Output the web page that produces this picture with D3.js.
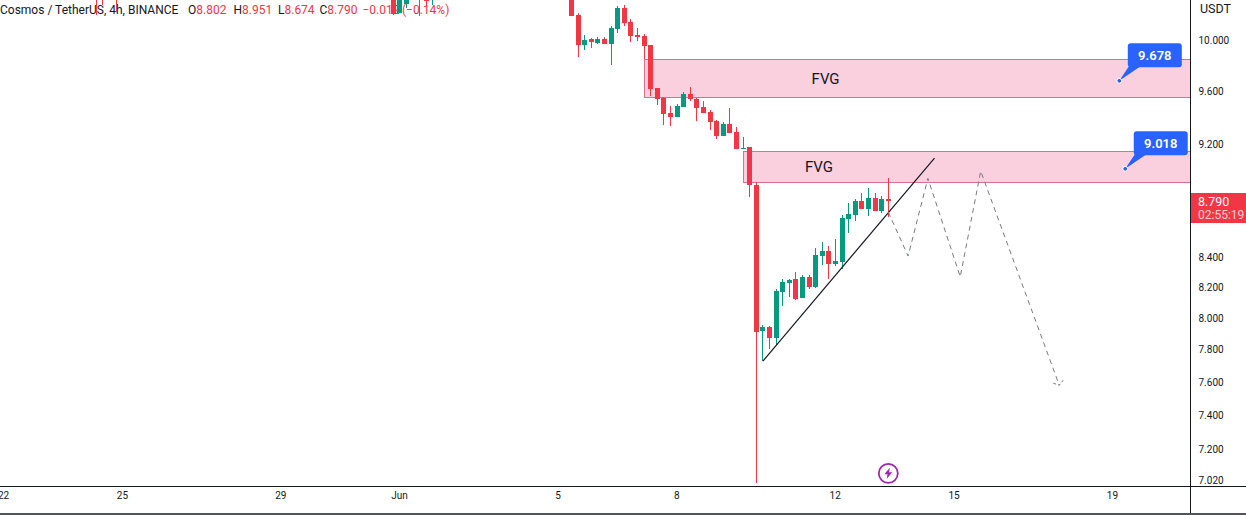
<!DOCTYPE html>
<html>
<head>
<meta charset="utf-8">
<script src="https://cdn.jsdelivr.net/npm/d3@7"></script>
<style>
  html, body { margin: 0; padding: 0; background: #fff; overflow: hidden; }
  svg { display: block; }
  text { font-family: Roboto, sans-serif; fill: #131722; }
</style>
</head>
<body>
<div id="chart"></div>
<script>
// 4h bars, counted from Jun 5 00:00. The bars above the top edge only show their lower wicks.
const barIndex = [-70, -69, -67, -25, -24, -23, -21, -20, -19,
    2, 3, 4, 5, 6, 7, 8, 9, 10, 11, 12, 13, 14, 15, 16, 17, 18, 19, 20, 21, 22, 23, 24, 25,
    26, 27, 28, 29, 30, 31, 32, 33, 34, 35, 36, 37, 38, 39, 40, 41, 42, 43, 44, 45, 46, 47, 48, 49, 50];
const opens = [10.60, 10.60, 10.60, 10.50, 10.219, 10.295, 10.50, 10.50, 10.340,
    10.450, 10.203, 9.960, 10.008, 9.976, 10.008, 9.968, 10.089, 10.260, 10.146, 10.040, 10.032, 9.960,
    9.622, 9.545, 9.431, 9.401, 9.476, 9.576, 9.537, 9.476, 9.438, 9.371, 9.258,
    9.348, 9.288, 9.162, 9.177, 8.901, 7.916, 7.942, 7.872, 8.168, 8.227, 8.254, 8.129, 8.267, 8.201, 8.408,
    8.441, 8.354, 8.367, 8.661, 8.689, 8.787, 8.731, 8.808, 8.717, 8.802];
const highs = [10.70, 10.70, 10.70, 10.60, 10.60, 10.60, 10.60, 10.60, 10.60,
    10.550, 10.219, 10.040, 10.016, 10.024, 10.024, 10.113, 10.277, 10.285, 10.170, 10.097, 10.048, 9.960,
    9.622, 9.553, 9.484, 9.499, 9.591, 9.630, 9.545, 9.522, 9.453, 9.378, 9.363,
    9.469, 9.326, 9.251, 9.177, 8.922, 7.954, 7.948, 8.188, 8.254, 8.254, 8.300, 8.280, 8.280, 8.462, 8.503,
    8.475, 8.523, 8.689, 8.773, 8.801, 8.844, 8.880, 8.844, 8.823, 8.951];
const lows = [10.203, 10.285, 10.228, 10.203, 10.219, 10.260, 10.195, 10.277, 10.285,
    10.195, 9.864, 9.920, 9.936, 9.968, 9.968, 9.801, 10.056, 10.113, 9.984, 9.992, 9.849, 9.560,
    9.492, 9.341, 9.333, 9.401, 9.476, 9.522, 9.371, 9.431, 9.303, 9.236, 9.258,
    9.281, 9.162, 9.162, 8.816, 7.006, 7.728, 7.803, 7.828, 8.077, 8.135, 8.115, 8.129, 8.188, 8.194, 8.347,
    8.254, 8.340, 8.320, 8.564, 8.647, 8.731, 8.682, 8.717, 8.703, 8.674];
const closes = [10.50, 10.50, 10.50, 10.212, 10.50, 10.50, 10.40, 10.320, 10.500,
    10.195, 9.960, 10.000, 9.984, 10.008, 9.968, 10.097, 10.260, 10.137, 10.032, 10.024, 9.952, 9.614,
    9.537, 9.423, 9.401, 9.484, 9.576, 9.537, 9.469, 9.431, 9.363, 9.258, 9.348,
    9.281, 9.162, 9.170, 8.901, 7.910, 7.942, 7.872, 8.175, 8.234, 8.247, 8.122, 8.267, 8.201, 8.414, 8.441,
    8.354, 8.374, 8.668, 8.696, 8.787, 8.731, 8.808, 8.717, 8.801, 8.790];

// tick labels
const priceTicks = [10.0, 9.6, 9.2, 8.4, 8.2, 8.0, 7.8, 7.6, 7.4, 7.2, 7.02];
const timeTickBars = [-84, -66, -42, -24, 0, 18, 42, 60, 84];
const timeTickLabels = ["22", "25", "29", "Jun", "5", "8", "12", "15", "19"];

// drawings: [bar, price]
const fvgZones = [
    { fromBar: 13, top: 9.845, bottom: 9.553, label: "FVG", labelBar: 40.5 },
    { fromBar: 28, top: 9.145, bottom: 8.920, label: "FVG", labelBar: 39.5 }
];
const callouts = [
    { bar: 85.0, price: 9.678, text: "9.678" },
    { bar: 85.9, price: 9.018, text: "9.018" }
];
const trendLine = [[31.0, 7.728], [57.0, 9.096]];
const projection = [[50.0, 8.710], [53.0, 8.408], [56.0, 8.949], [60.9, 8.269], [64.0, 9.001], [75.9, 7.580]];

const lastPrice = "8.790";
const countdown = "02:55:19";
const legendTitle = "Cosmos / TetherUS, 4h, BINANCE";
const legendValues = [["O", "8.802"], ["H", "8.951"], ["L", "8.674"], ["C", "8.790"]];
const legendValueX = [188, 233.5, 278, 319.5];
const legendChange = ["\u22120.012", "(\u22120.14%)"];
const legendChangeX = [362.5, 402];

const RED = "#f23645", GREEN = "#089981", PINK = "#fad0df", PINK_EDGE = "#d87096", BLUE = "#2962ff";

const width = 1246, height = 515;
const paneW = 1190.5, paneH = 486;
const barStep = 6.6;

const x = d3.scaleLinear().domain([0, 100]).range([558.3, 558.3 + 100 * barStep]);
const y = d3.scaleLog().domain([6.9907, 10.3265]).range([paneH, 0]);

const svg = d3.select("#chart").append("svg")
    .attr("width", width)
    .attr("height", height);

svg.append("clipPath").attr("id", "pane")
  .append("rect").attr("width", paneW).attr("height", paneH);

// legend goes under the candles, the wicks run through it
const legend = svg.append("g").attr("font-size", 12);
legend.append("text").attr("x", 0).attr("y", 14).text(legendTitle);
legendValues.forEach(function(d, i) {
    let t = legend.append("text").attr("x", legendValueX[i]).attr("y", 14);
    t.append("tspan").text(d[0]);
    t.append("tspan").style("fill", RED).text(d[1]);
});
legendChange.forEach(function(d, i) {
    legend.append("text").attr("x", legendChangeX[i]).attr("y", 14).style("fill", RED).text(d);
});

const pane = svg.append("g").attr("clip-path", "url(#pane)");

// FVG zones
fvgZones.forEach(function(z) {
    pane.append("rect")
        .attr("x", Math.floor(x(z.fromBar)) + 0.5)
        .attr("y", Math.round(y(z.top)) + 0.5)
        .attr("width", width)
        .attr("height", Math.round(y(z.bottom)) - Math.round(y(z.top)))
        .attr("fill", PINK)
        .attr("stroke", PINK_EDGE);
    pane.append("text")
        .attr("x", x(z.labelBar))
        .attr("y", (y(z.top) + y(z.bottom)) / 2 + 5.5)
        .attr("text-anchor", "middle")
        .attr("font-size", 15)
        .text(z.label);
});

// candles
const candles = d3.range(barIndex.length).map(function(i) {
    return { bar: barIndex[i], o: opens[i], h: highs[i], l: lows[i], c: closes[i] };
});
const candle = pane.append("g").selectAll("g").data(candles).join("g")
    .attr("fill", d => d.c >= d.o ? GREEN : RED)
    .attr("shape-rendering", "crispEdges");
candle.append("rect")
    .attr("x", d => Math.floor(x(d.bar)))
    .attr("y", d => Math.round(y(d.h)))
    .attr("width", 1)
    .attr("height", d => Math.round(y(d.l)) - Math.round(y(d.h)));
candle.append("rect")
    .attr("x", d => Math.floor(x(d.bar)) - 2)
    .attr("y", d => Math.round(y(Math.max(d.o, d.c))))
    .attr("width", 5)
    .attr("height", d => Math.max(1, Math.round(y(Math.min(d.o, d.c))) - Math.round(y(Math.max(d.o, d.c)))));

// trend line and the projected path
const line = d3.line().x(d => x(d[0])).y(d => y(d[1]));
pane.append("path")
    .attr("d", line(trendLine))
    .attr("fill", "none")
    .attr("stroke", "#131722")
    .attr("stroke-width", 1.2);
pane.append("path")
    .attr("d", line(projection))
    .attr("fill", "none")
    .attr("stroke", "#787b86")
    .attr("stroke-width", 1)
    .attr("stroke-dasharray", "5 4");
const tip = projection[projection.length - 1];
const tx = x(tip[0]), ty = y(tip[1]);
pane.append("path")
    .attr("d", "M" + (tx - 6) + "," + (ty - 2) + "L" + tx + "," + ty + "L" + (tx + 4) + "," + (ty - 5))
    .attr("fill", "none")
    .attr("stroke", "#787b86")
    .attr("stroke-dasharray", "3 2");

// price callouts
const callout = svg.append("g").selectAll("g").data(callouts).join("g")
    .attr("transform", d => "translate(" + x(d.bar) + "," + y(d.price) + ")");
callout.append("path")
    .attr("d", "M0,0L10,-15L22,-15Z")
    .attr("fill", BLUE);
callout.append("rect")
    .attr("x", 8.5).attr("y", -37.5)
    .attr("width", 54).attr("height", 24)
    .attr("rx", 3)
    .attr("fill", BLUE);
callout.append("circle")
    .attr("r", 2.4)
    .attr("fill", BLUE)
    .attr("stroke", "#fff")
    .attr("stroke-width", 1);
callout.append("text")
    .attr("x", 35.5).attr("y", -21)
    .attr("text-anchor", "middle")
    .attr("font-size", 13)
    .attr("font-weight", 600)
    .style("fill", "#fff")
    .text(d => d.text);

// lightning marker
const marker = svg.append("g").attr("transform", "translate(" + x(50) + ",473.3)");
marker.append("circle")
    .attr("r", 9.5)
    .attr("fill", "#fff")
    .attr("stroke", "#9c27b0")
    .attr("stroke-width", 1.8);
marker.append("path")
    .attr("d", "M1.5,-5.5L-4,1L-0.8,1L-1.5,5.5L4,-1L0.8,-1Z")
    .attr("fill", "#9c27b0");

// axes
const yAxis = d3.axisRight(y)
    .tickValues(priceTicks)
    .tickFormat(d3.format(".3f"))
    .tickSize(0)
    .tickPadding(8);
svg.append("g")
    .attr("transform", "translate(" + paneW + ",0)")
    .attr("font-size", 12.5)
    .attr("font-family", null)
    .call(yAxis)
    .call(g => g.select(".domain").remove());

const xAxis = d3.axisBottom(x)
    .tickValues(timeTickBars)
    .tickFormat((d, i) => timeTickLabels[i])
    .tickSize(0)
    .tickPadding(6);
svg.append("g")
    .attr("transform", "translate(-0.8," + paneH + ")")
    .attr("font-size", 12.5)
    .attr("font-family", null)
    .call(xAxis)
    .call(g => g.select(".domain").remove());

svg.append("text")
    .attr("x", 1200).attr("y", 13)
    .attr("font-size", 12.5)
    .text("USDT");

// frame lines
svg.append("line").attr("x1", 0).attr("x2", width).attr("y1", paneH + 0.5).attr("y2", paneH + 0.5).attr("stroke", "#131722");
svg.append("line").attr("x1", paneW).attr("x2", paneW).attr("y1", 0).attr("y2", 513).attr("stroke", "#131722");
svg.append("rect").attr("x", 0).attr("y", 513).attr("width", width).attr("height", 2).attr("fill", "#50535e");

// last price tag
svg.append("rect")
    .attr("x", 1191).attr("y", 193)
    .attr("width", 55).attr("height", 30)
    .attr("fill", RED);
svg.append("text")
    .attr("x", 1198).attr("y", 206)
    .attr("font-size", 12.5)
    .style("fill", "#fff")
    .text(lastPrice);
svg.append("text")
    .attr("x", 1198).attr("y", 219)
    .attr("font-size", 12)
    .style("fill", "#fff")
    .style("opacity", 0.75)
    .text(countdown);
</script>
</body>
</html>
